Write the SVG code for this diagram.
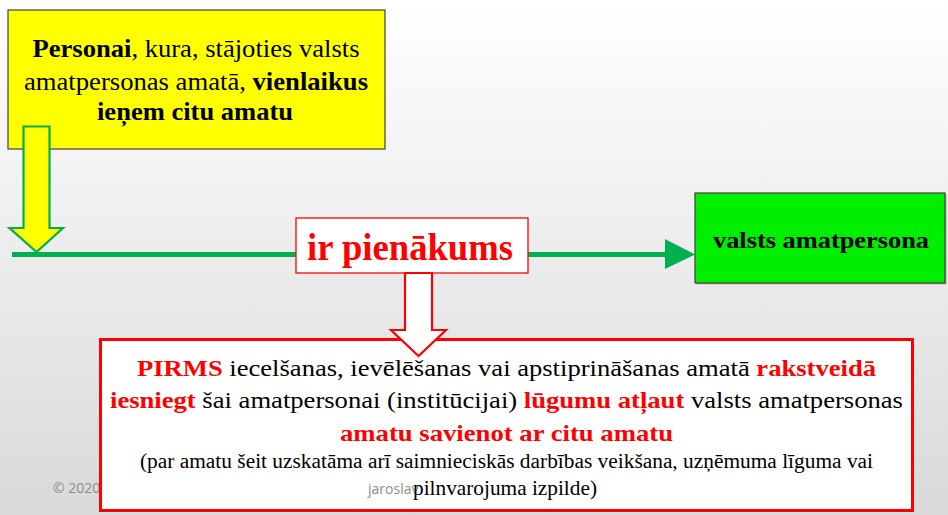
<svg xmlns="http://www.w3.org/2000/svg" width="948" height="515" viewBox="0 0 948 515">
<defs>
<linearGradient id="bg" x1="0" y1="0" x2="0" y2="1">
<stop offset="0" stop-color="#ffffff"/>
<stop offset="1" stop-color="#d9d9d9"/>
</linearGradient>
</defs>
<style>
.t{font-family:'Liberation Serif', 'DejaVu Serif', serif;}
.b{font-weight:bold;}
.red{fill:#ff0000;}
.foot{font-family:'Open Sans', 'Liberation Sans', sans-serif;fill:#8c8c8c;font-size:14px;}
</style>
<rect x="0" y="0" width="948" height="515" fill="url(#bg)"/>
<g id="footer">
<text class="foot" x="53" y="493">© 2020</text>
</g>
<g id="connectors">
<line x1="12" y1="254.5" x2="668" y2="254.5" stroke="#00b050" stroke-width="5"/>
<polygon points="665,239 695,254.5 665,269" fill="#00b050"/>
</g>
<g id="node-persona">
<rect x="8" y="10" width="377" height="139" fill="#ffff00" stroke="#404040" stroke-width="1.2"/>
<text class="t" x="196" y="57" font-size="25" text-anchor="middle" textLength="327" lengthAdjust="spacingAndGlyphs"><tspan class="b">Personai</tspan>, kura, stājoties valsts</text>
<text class="t" x="196" y="90" font-size="25" text-anchor="middle" textLength="344" lengthAdjust="spacingAndGlyphs">amatpersonas amatā, <tspan class="b">vienlaikus</tspan></text>
<text class="t b" x="195" y="120" font-size="25" text-anchor="middle" textLength="196" lengthAdjust="spacingAndGlyphs">ieņem citu amatu</text>
</g>
<g id="arrow-yellow">
<polygon points="23.5,126.5 49.5,126.5 49.5,228 63,228 36.5,252 9.5,228 23.5,228" fill="#ffff00" stroke="#00b050" stroke-width="2.2"/>
</g>
<g id="node-pienakums">
<rect x="296" y="218" width="232" height="55" fill="#ffffff" stroke="#ff0000" stroke-width="1.3"/>
<text class="t b red" x="410" y="260" font-size="38" text-anchor="middle" textLength="206" lengthAdjust="spacingAndGlyphs">ir pienākums</text>
</g>
<g id="node-amatpersona">
<rect x="696.5" y="194.5" width="250" height="90" fill="#404040" opacity="0.35"/>
<rect x="695" y="193" width="250" height="90" fill="#00ee00" stroke="#404040" stroke-width="1.2"/>
<text class="t b" x="821" y="248" font-size="23" text-anchor="middle" textLength="216" lengthAdjust="spacingAndGlyphs">valsts amatpersona</text>
</g>
<g id="node-pirms">
<rect x="100.5" y="339.5" width="812" height="171" fill="#ffffff" stroke="#ff0000" stroke-width="3"/>
<text class="t" x="506.5" y="376" font-size="24" text-anchor="middle" textLength="739" lengthAdjust="spacingAndGlyphs"><tspan class="b red">PIRMS</tspan> iecelšanas, ievēlēšanas vai apstiprināšanas amatā <tspan class="b red">rakstveidā</tspan></text>
<text class="t" x="506.5" y="408" font-size="24" text-anchor="middle" textLength="793" lengthAdjust="spacingAndGlyphs"><tspan class="b red">iesniegt</tspan> šai amatpersonai (institūcijai) <tspan class="b red">lūgumu atļaut</tspan> valsts amatpersonas</text>
<text class="t b red" x="506.5" y="441" font-size="24" text-anchor="middle" textLength="333" lengthAdjust="spacingAndGlyphs">amatu savienot ar citu amatu</text>
<text class="t" x="506.5" y="468" font-size="20" text-anchor="middle" textLength="733" lengthAdjust="spacingAndGlyphs">(par amatu šeit uzskatāma arī saimnieciskās darbības veikšana, uzņēmuma līguma vai</text>
<text class="foot" x="368" y="494">jaroslav</text>
<text class="t" x="505" y="495" font-size="21" text-anchor="middle" textLength="184" lengthAdjust="spacingAndGlyphs">pilnvarojuma izpilde)</text>
</g>
<g id="arrow-red">
<polygon points="405,273 432,273 432,330 446,330 418.5,356 391,330 405,330" fill="#ffffff" stroke="#ff0000" stroke-width="2.2"/>
</g>
</svg>
